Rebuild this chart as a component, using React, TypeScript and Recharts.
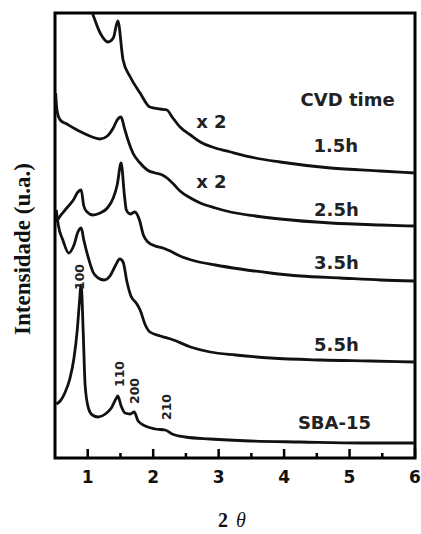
import React from 'react';
import { LineChart, Line, XAxis, YAxis, ReferenceArea, ReferenceDot } from 'recharts';

// 2θ positions (deg) and intensities (a.u., stacked offsets as in the figure)
const theta15 = [0.96, 1.07, 1.19, 1.31, 1.39, 1.46, 1.54, 1.65, 1.8, 1.95, 2.11, 2.21, 2.29, 2.41, 2.57, 2.72, 2.95, 3.18, 3.56, 3.94, 4.71, 5.47, 6.0];
const int15 = [463, 445, 425, 416, 420, 437, 398, 381, 365, 351, 349, 348, 341, 331, 323, 316, 310, 306, 300, 296, 290, 287, 285];

const theta25 = [0.51, 0.53, 0.58, 0.68, 0.81, 0.93, 1.07, 1.19, 1.3, 1.39, 1.46, 1.51, 1.56, 1.62, 1.69, 1.8, 1.91, 2.03, 2.14, 2.23, 2.31, 2.41, 2.57, 2.72, 2.95, 3.18, 3.56, 3.94, 4.71, 5.47, 6.0];
const int25 = [365, 348, 338, 334, 329, 325, 321, 319, 322, 330, 339, 341, 330, 317, 305, 295, 288, 285, 283, 279, 274, 267, 260, 255, 250, 246, 242, 239, 235, 233, 232];

const theta35 = [0.52, 0.58, 0.68, 0.78, 0.85, 0.9, 0.94, 0.99, 1.08, 1.19, 1.3, 1.39, 1.45, 1.51, 1.56, 1.59, 1.65, 1.72, 1.79, 1.85, 1.92, 2.03, 2.15, 2.26, 2.41, 2.64, 2.95, 3.33, 3.79, 4.25, 4.86, 5.47, 6.0];
const int35 = [236, 242, 250, 258, 266, 268, 252, 246, 243, 245, 250, 260, 273, 295, 263, 248, 244, 246, 238, 223, 216, 212, 210, 207, 202, 197, 193, 189, 185, 182, 180, 178, 177];

const theta55 = [0.52, 0.55, 0.62, 0.71, 0.79, 0.85, 0.9, 0.94, 1.01, 1.08, 1.16, 1.25, 1.34, 1.42, 1.49, 1.54, 1.6, 1.66, 1.74, 1.8, 1.88, 1.95, 2.11, 2.31, 2.57, 2.87, 3.26, 3.79, 4.56, 5.32, 6.0];
const int55 = [248, 233, 218, 205, 213, 226, 230, 218, 200, 186, 180, 178, 182, 192, 199, 196, 176, 162, 155, 148, 133, 126, 122, 118, 111, 106, 103, 100, 98, 97, 96];

const thetaSBA = [0.52, 0.58, 0.65, 0.73, 0.79, 0.84, 0.87, 0.9, 0.93, 0.96, 1.01, 1.07, 1.16, 1.27, 1.36, 1.43, 1.46, 1.51, 1.57, 1.65, 1.71, 1.77, 1.88, 2.03, 2.18, 2.29, 2.49, 2.87, 3.48, 4.25, 5.17, 6.0];
const intSBA = [54, 57, 65, 80, 100, 128, 153, 173, 128, 73, 50, 43, 41, 44, 50, 59, 62, 52, 45, 44, 46, 37, 32, 29, 28, 24, 21, 19, 17, 16, 15, 15];

const xTicks = [1, 1.5, 2, 2.5, 3, 3.5, 4, 4.5, 5, 5.5, 6];

const zip = (xs: number[], ys: number[]) => xs.map((x, i) => ({ x, y: ys[i] }));
const series = [zip(theta15, int15), zip(theta25, int25), zip(theta35, int35), zip(theta55, int55), zip(thetaSBA, intSBA)];

const SANS = '"DejaVu Sans", sans-serif';
const SERIF = '"Liberation Serif", "Times New Roman", serif';

const annotations = [
  { x: 4.97, y: 359, text: 'CVD time', size: 18, rot: 0 },
  { x: 4.79, y: 313, text: '1.5h', size: 18, rot: 0 },
  { x: 2.89, y: 337, text: 'x 2', size: 18, rot: 0 },
  { x: 2.89, y: 277, text: 'x 2', size: 18, rot: 0 },
  { x: 4.8, y: 249, text: '2.5h', size: 18, rot: 0 },
  { x: 4.8, y: 196, text: '3.5h', size: 18, rot: 0 },
  { x: 4.8, y: 114, text: '5.5h', size: 18, rot: 0 },
  { x: 4.77, y: 36, text: 'SBA-15', size: 18, rot: 0 },
  { x: 0.87, y: 181, text: '100', size: 12.5, rot: -90 },
  { x: 1.49, y: 84, text: '110', size: 12.5, rot: -90 },
  { x: 1.72, y: 67, text: '200', size: 12.5, rot: -90 },
  { x: 2.2, y: 51, text: '210', size: 12.5, rot: -90 },
];

const Tick = (props: any) => {
  const { x, y, payload } = props;
  const v = payload.value;
  const major = Number.isInteger(v);
  return (
    <g>
      <line x1={x} x2={x} y1={y} y2={y - (major ? 9 : 5)} stroke="#000" strokeWidth={2.5} />
      {major && (
        <text x={x} y={y + 19} textAnchor="middle" dominantBaseline="central" fontFamily={SANS} fontWeight="bold" fontSize={17} fill="#111">
          {v}
        </text>
      )}
    </g>
  );
};

export default function App() {
  return (
    <div style={{ position: 'absolute', left: 0, top: 0, width: 421, height: 534, overflow: 'hidden', background: '#fff' }}>
      <LineChart width={421} height={534} margin={{ top: 13, right: 6, left: 55, bottom: 46 }}>
        <XAxis
          dataKey="x"
          type="number"
          domain={[0.5, 6]}
          allowDataOverflow
          ticks={xTicks}
          interval={0}
          tick={<Tick />}
          tickLine={false}
          tickSize={0}
          tickMargin={0}
          axisLine={false}
          height={30}
        />
        <YAxis type="number" domain={[0, 445]} allowDataOverflow hide />
        <ReferenceArea x1={0.5} x2={6} y1={0} y2={445} fill="none" stroke="#000" strokeWidth={3} ifOverflow="visible" />
        {series.map((d, i) => (
          <Line key={i} data={d} dataKey="y" type="monotoneX" stroke="#111" strokeWidth={2.8} dot={false} isAnimationActive={false} />
        ))}
        {annotations.map((a, i) => (
          <ReferenceDot
            key={'a' + i}
            x={a.x}
            y={a.y}
            r={0}
            ifOverflow="visible"
            shape={(p: any) => (
              <text
                x={p.cx}
                y={p.cy}
                textAnchor="middle"
                dominantBaseline="central"
                fontFamily={SANS}
                fontWeight="bold"
                fontSize={a.size}
                fill="#222"
                transform={a.rot ? `rotate(${a.rot} ${p.cx} ${p.cy})` : undefined}
              >
                {a.text}
              </text>
            )}
          />
        ))}
        <text x={22} y={249} textAnchor="middle" dominantBaseline="central" fontFamily={SERIF} fontWeight="bold" fontSize={23} fill="#111" transform="rotate(-90 22 249)">
          Intensidade (u.a.)
        </text>
        <text x={232} y={520} textAnchor="middle" dominantBaseline="central" fontFamily={SERIF} fontWeight="bold" fontSize={20} fill="#111">
          2<tspan dx={8} fontStyle="italic" fontWeight="normal">θ</tspan>
        </text>
      </LineChart>
    </div>
  );
}
